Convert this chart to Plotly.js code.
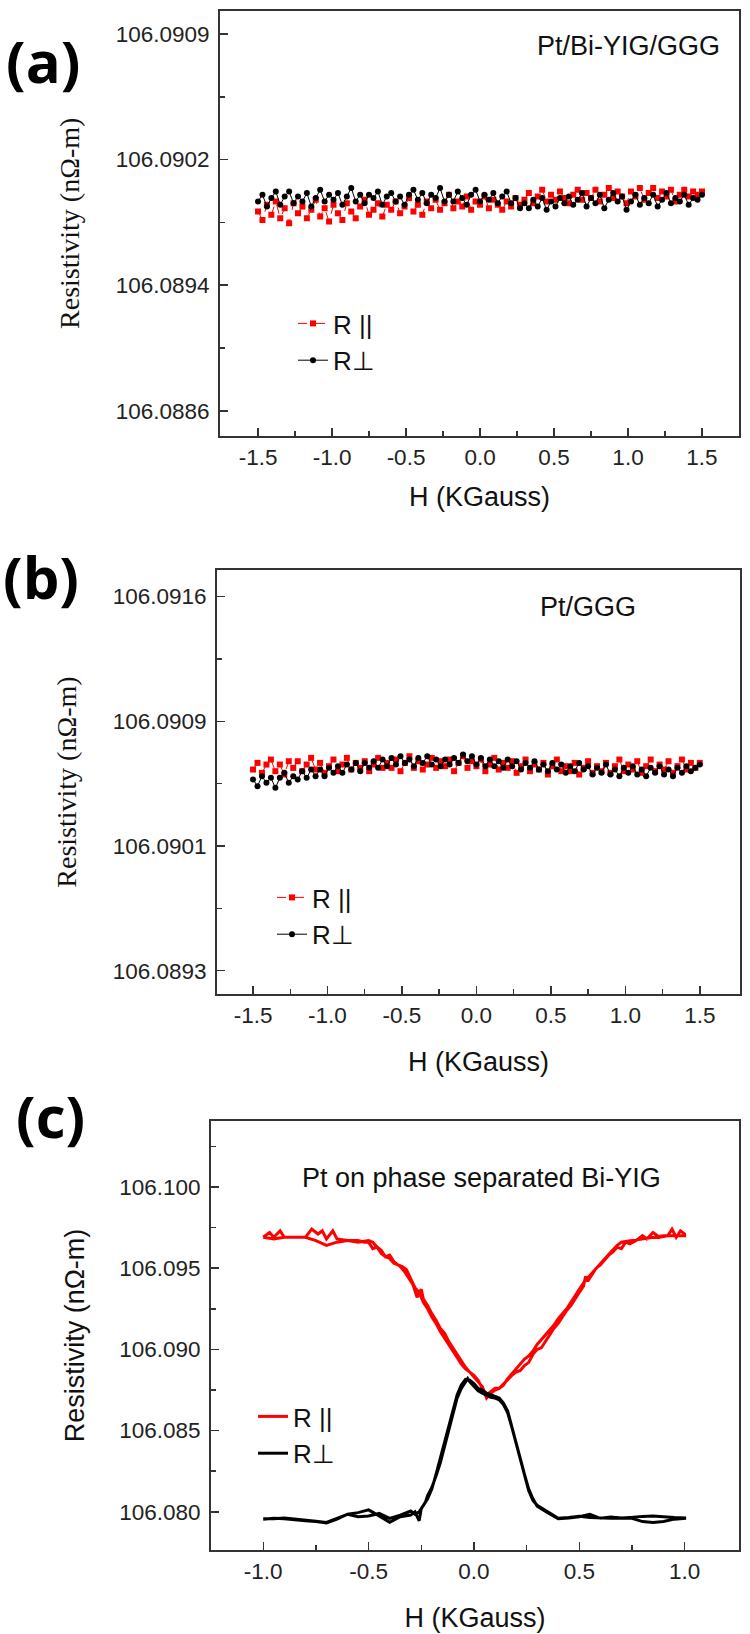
<!DOCTYPE html>
<html><head><meta charset="utf-8">
<script src="https://cdn.plot.ly/plotly-3.0.1.min.js"></script>
<style>html,body{margin:0;padding:0;background:#fff}#chart{width:750px;height:1634px}</style>
</head><body><div id="chart"></div>
<script>
// ---------- shared field grid for panels (a) and (b) (KGauss) ----------
const H_ab = [-1.50,-1.47,-1.44,-1.41,-1.38,-1.35,-1.32,-1.29,-1.26,-1.23,
-1.20,-1.17,-1.14,-1.11,-1.08,-1.05,-1.02,-0.99,-0.96,-0.93,
-0.90,-0.87,-0.84,-0.81,-0.78,-0.75,-0.72,-0.69,-0.66,-0.63,
-0.60,-0.57,-0.54,-0.51,-0.48,-0.45,-0.42,-0.39,-0.36,-0.33,
-0.30,-0.27,-0.24,-0.21,-0.18,-0.15,-0.12,-0.09,-0.06,-0.03,
0.00,0.03,0.06,0.09,0.12,0.15,0.18,0.21,0.24,0.27,
0.30,0.33,0.36,0.39,0.42,0.45,0.48,0.51,0.54,0.57,
0.60,0.63,0.66,0.69,0.72,0.75,0.78,0.81,0.84,0.87,
0.90,0.93,0.96,0.99,1.02,1.05,1.08,1.11,1.14,1.17,
1.20,1.23,1.26,1.29,1.32,1.35,1.38,1.41,1.44,1.47,1.50];

// ---------- panel (a): Pt/Bi-YIG/GGG ----------
const Ra_par = [106.08984,106.08979,106.08988,106.08982,106.08990,106.08980,106.08986,106.08977,106.08989,106.08983,
106.08987,106.08980,106.08985,106.08991,106.08981,106.08986,106.08978,106.08988,106.08983,106.08979,
106.08989,106.08984,106.08980,106.08987,106.08991,106.08982,106.08985,106.08989,106.08981,106.08988,
106.08985,106.08990,106.08983,106.08987,106.08992,106.08984,106.08988,106.08982,106.08990,106.08986,
106.08991,106.08985,106.08989,106.08994,106.08986,106.08990,106.08987,106.08993,106.08985,106.08990,
106.08988,106.08993,106.08986,106.08991,106.08988,106.08985,106.08990,106.08987,106.08992,106.08988,
106.08991,106.08995,106.08989,106.08993,106.08997,106.08990,106.08994,106.08991,106.08996,106.08992,
106.08989,106.08994,106.08997,106.08991,106.08995,106.08992,106.08997,106.08990,106.08994,106.08998,
106.08992,106.08996,106.08993,106.08989,106.08996,106.08993,106.08998,106.08991,106.08995,106.08998,
106.08992,106.08996,106.08993,106.08997,106.08990,106.08994,106.08997,106.08993,106.08996,106.08994,106.08996];
const Ra_perp = [106.08990,106.08994,106.08987,106.08992,106.08996,106.08988,106.08993,106.08996,106.08989,106.08993,
106.08990,106.08995,106.08987,106.08992,106.08997,106.08990,106.08994,106.08991,106.08995,106.08988,
106.08993,106.08998,106.08990,106.08994,106.08989,106.08994,106.08992,106.08996,106.08988,106.08993,
106.08995,106.08990,106.08993,106.08988,106.08994,106.08997,106.08991,106.08995,106.08989,106.08994,
106.08992,106.08998,106.08990,106.08994,106.08990,106.08996,106.08992,106.08988,106.08994,106.08997,
106.08990,106.08994,106.08991,106.08995,106.08989,106.08993,106.08996,106.08989,106.08992,106.08986,
106.08989,106.08986,106.08991,106.08987,106.08992,106.08985,106.08990,106.08987,106.08992,106.08989,
106.08993,106.08988,106.08991,106.08995,106.08987,106.08992,106.08989,106.08994,106.08986,106.08991,
106.08995,106.08990,106.08993,106.08985,106.08990,106.08994,106.08988,106.08992,106.08989,106.08994,
106.08987,106.08991,106.08995,106.08989,106.08992,106.08990,106.08994,106.08988,106.08992,106.08991,106.08994];
const YA_TICKVALS = [106.08865, 106.0894, 106.09015, 106.0909];
const YA_TICKTEXT = ['106.0886', '106.0894', '106.0902', '106.0909'];

// ---------- panel (b): Pt/GGG ----------
const Rb_par = [106.09051,106.09055,106.09049,106.09054,106.09057,106.09050,106.09054,106.09048,106.09056,106.09052,
106.09056,106.09050,106.09054,106.09058,106.09051,106.09055,106.09049,106.09053,106.09057,106.09050,
106.09054,106.09058,106.09051,106.09055,106.09052,106.09056,106.09050,106.09054,106.09058,106.09052,
106.09055,106.09052,106.09057,106.09050,106.09055,106.09059,106.09052,106.09056,106.09051,106.09054,
106.09058,106.09052,106.09056,106.09053,106.09057,106.09050,106.09055,106.09059,106.09052,106.09056,
106.09053,106.09057,106.09050,106.09054,106.09058,106.09051,106.09055,106.09052,106.09056,106.09049,
106.09053,106.09057,106.09050,106.09054,106.09051,106.09055,106.09048,106.09053,106.09057,106.09050,
106.09053,106.09050,106.09055,106.09048,106.09052,106.09056,106.09049,106.09053,106.09050,106.09055,
106.09049,106.09053,106.09057,106.09050,106.09054,106.09051,106.09056,106.09049,106.09053,106.09057,
106.09050,106.09054,106.09051,106.09056,106.09049,106.09053,106.09057,106.09051,106.09055,106.09052,106.09055];
const Rb_perp = [106.09045,106.09041,106.09047,106.09043,106.09046,106.09040,106.09046,106.09049,106.09043,106.09047,
106.09045,106.09050,106.09046,106.09051,106.09047,106.09051,106.09047,106.09052,106.09049,106.09053,
106.09049,106.09054,106.09051,106.09055,106.09050,106.09055,106.09052,106.09056,106.09052,106.09057,
106.09053,106.09058,106.09054,106.09059,106.09055,106.09057,106.09053,106.09058,106.09055,106.09059,
106.09054,106.09057,106.09053,106.09057,106.09054,106.09058,106.09055,106.09060,106.09056,106.09059,
106.09054,106.09058,106.09053,106.09057,106.09053,106.09056,106.09052,106.09057,106.09053,106.09056,
106.09051,106.09055,106.09052,106.09056,106.09051,106.09054,106.09050,106.09055,106.09051,106.09054,
106.09049,106.09053,106.09050,106.09055,106.09051,106.09053,106.09048,106.09052,106.09049,106.09054,
106.09048,106.09051,106.09047,106.09052,106.09049,106.09053,106.09048,106.09051,106.09047,106.09052,
106.09049,106.09053,106.09048,106.09051,106.09047,106.09052,106.09049,106.09053,106.09050,106.09052,106.09054];
const YB_TICKVALS = [106.0893, 106.09005, 106.0908, 106.09155];
const YB_TICKTEXT = ['106.0893', '106.0901', '106.0909', '106.0916'];

// ---------- panel (c): Pt on phase separated Bi-YIG (up sweep then down sweep) ----------
const Hc_par_up = [-1.00,-0.97,-0.95,-0.92,-0.90,-0.85,-0.80,-0.77,-0.74,-0.72,-0.70,-0.67,-0.65,-0.60,-0.55,-0.52,-0.50,-0.48,-0.46,-0.44,-0.42,-0.40,-0.38,-0.36,-0.34,-0.32,-0.30,-0.28,-0.26,-0.25,-0.24,-0.22,-0.20,-0.18,-0.16,-0.14,-0.12,-0.10,-0.08,-0.06,-0.04,-0.02,0.00,0.02,0.04,0.06,0.08,0.10,0.12,0.14,0.16,0.18,0.20,0.22,0.24,0.26,0.28,0.30,0.32,0.34,0.36,0.38,0.40,0.42,0.44,0.46,0.48,0.50,0.52,0.54,0.56,0.58,0.60,0.62,0.65,0.68,0.70,0.75,0.80,0.85,0.90,0.95,1.00];
const Rc_par_up = [106.0969,106.0972,106.0969,106.0973,106.0969,106.0969,106.0969,106.0974,106.0971,106.0973,106.0968,106.0973,106.0968,106.0967,106.0967,106.0966,106.0966,106.0962,106.0963,106.0959,106.0957,106.0956,106.0953,106.0952,106.0951,106.0949,106.0943,106.0938,106.0935,106.0937,106.0931,106.0927,106.0922,106.0918,106.0913,106.0910,106.0905,106.0901,106.0897,106.0893,106.0889,106.0886,106.0884,106.0881,106.0876,106.0872,106.0874,106.0876,106.0876,106.0878,106.0882,106.0885,106.0888,106.0891,106.0894,106.0896,106.0899,106.0903,106.0906,106.0909,106.0912,106.0915,106.0919,106.0922,106.0925,106.0929,106.0933,106.0937,106.0941,106.0944,106.0947,106.0950,106.0953,106.0956,106.0960,106.0964,106.0966,106.0967,106.0968,106.0969,106.0970,106.0970,106.0970];
const Hc_par_down = [1.00,0.98,0.96,0.94,0.92,0.88,0.85,0.82,0.80,0.77,0.74,0.72,0.70,0.68,0.66,0.64,0.62,0.60,0.58,0.56,0.54,0.53,0.52,0.50,0.48,0.46,0.44,0.42,0.40,0.38,0.36,0.34,0.32,0.30,0.28,0.26,0.24,0.22,0.20,0.18,0.15,0.12,0.10,0.08,0.06,0.04,0.02,0.00,-0.02,-0.04,-0.06,-0.08,-0.10,-0.12,-0.14,-0.16,-0.18,-0.20,-0.22,-0.24,-0.26,-0.27,-0.29,-0.31,-0.33,-0.35,-0.38,-0.40,-0.42,-0.44,-0.46,-0.48,-0.50,-0.55,-0.60,-0.65,-0.70,-0.75,-0.80,-0.85,-0.90,-0.95,-1.00];
const Rc_par_down = [106.0971,106.0973,106.0969,106.0974,106.0970,106.0969,106.0972,106.0968,106.0970,106.0967,106.0965,106.0966,106.0962,106.0963,106.0960,106.0958,106.0955,106.0952,106.0950,106.0946,106.0942,106.0945,106.0939,106.0935,106.0931,106.0927,106.0924,106.0920,106.0916,106.0913,106.0909,106.0905,106.0901,106.0900,106.0897,106.0892,106.0890,106.0887,106.0886,106.0884,106.0880,106.0876,106.0875,106.0873,106.0870,106.0877,106.0880,106.0883,106.0886,106.0888,106.0891,106.0895,106.0899,106.0903,106.0907,106.0911,106.0916,106.0920,106.0925,106.0929,106.0935,106.0932,106.0940,106.0944,106.0948,106.0951,106.0954,106.0958,106.0957,106.0961,106.0963,106.0966,106.0967,106.0966,106.0967,106.0966,106.0964,106.0967,106.0969,106.0969,106.0969,106.0968,106.0969];
const Hc_perp_up = [-1.00,-0.95,-0.90,-0.85,-0.80,-0.75,-0.70,-0.65,-0.60,-0.55,-0.50,-0.45,-0.40,-0.35,-0.30,-0.28,-0.26,-0.25,-0.23,-0.22,-0.20,-0.18,-0.16,-0.14,-0.12,-0.10,-0.08,-0.06,-0.04,-0.03,-0.02,0.00,0.02,0.04,0.06,0.08,0.10,0.12,0.14,0.16,0.18,0.20,0.22,0.24,0.26,0.28,0.30,0.35,0.40,0.45,0.50,0.55,0.60,0.65,0.70,0.75,0.80,0.85,0.90,0.95,1.00];
const Rc_perp_up = [106.07955,106.07960,106.07958,106.07950,106.07945,106.07940,106.07932,106.07955,106.07985,106.07995,106.08012,106.07975,106.07935,106.07970,106.07980,106.08000,106.07945,106.08020,106.08060,106.08100,106.08150,106.08220,106.08300,106.08400,106.08500,106.08600,106.08700,106.08760,106.08800,106.08820,106.08800,106.08770,106.08745,106.08730,106.08715,106.08705,106.08700,106.08690,106.08660,106.08610,106.08520,106.08420,106.08320,106.08220,106.08130,106.08070,106.08040,106.08000,106.07960,106.07965,106.07972,106.07965,106.07962,106.07960,106.07962,106.07960,106.07940,106.07935,106.07940,106.07955,106.07960];
const Hc_perp_down = [1.00,0.95,0.90,0.85,0.80,0.75,0.70,0.65,0.60,0.55,0.50,0.45,0.40,0.35,0.30,0.28,0.26,0.24,0.22,0.20,0.18,0.16,0.14,0.12,0.10,0.08,0.06,0.04,0.02,0.00,-0.02,-0.04,-0.06,-0.08,-0.10,-0.12,-0.14,-0.16,-0.18,-0.20,-0.22,-0.24,-0.26,-0.28,-0.30,-0.35,-0.40,-0.45,-0.50,-0.55,-0.60,-0.65,-0.70,-0.75,-0.80,-0.85,-0.90,-0.95,-1.00];
const Rc_perp_down = [106.07962,106.07965,106.07970,106.07975,106.07972,106.07965,106.07960,106.07968,106.07960,106.07985,106.07970,106.07962,106.07958,106.07995,106.08035,106.08080,106.08140,106.08230,106.08330,106.08430,106.08530,106.08620,106.08670,106.08700,106.08710,106.08720,106.08730,106.08750,106.08760,106.08790,106.08810,106.08815,106.08780,106.08720,106.08620,106.08520,106.08420,106.08320,106.08230,106.08140,106.08080,106.08040,106.08000,106.07985,106.08005,106.07980,106.07960,106.07990,106.07975,106.07970,106.07985,106.07960,106.07935,106.07942,106.07950,106.07955,106.07962,106.07958,106.07958];
const YC_TICKVALS = [106.080, 106.085, 106.090, 106.095, 106.100];
const YC_TICKTEXT = ['106.080', '106.085', '106.090', '106.095', '106.100'];

// ---------- x tick labels ----------
const XAB_TICKVALS = [-1.5, -1.0, -0.5, 0.0, 0.5, 1.0, 1.5];
const XAB_TICKTEXT = ['-1.5', '-1.0', '-0.5', '0.0', '0.5', '1.0', '1.5'];
const XC_TICKVALS = [-1.0, -0.5, 0.0, 0.5, 1.0];
const XC_TICKTEXT = ['-1.0', '-0.5', '0.0', '0.5', '1.0'];

const NAME_PAR = 'R ||';
const NAME_PERP = 'R\u22A5';
const PANEL_LABELS = ['(a)', '(b)', '(c)'];
const SAMPLE_LABELS = ['Pt/Bi-YIG/GGG', 'Pt/GGG', 'Pt on phase separated Bi-YIG'];
const X_TITLE = 'H (KGauss)';
const Y_TITLE = 'Resistivity (n\u03A9-m)';

// ---------- styling ----------
const W = 750, HGT = 1634;
const SANS = 'Liberation Sans, Arial, sans-serif';
const SERIF = 'Liberation Serif, Times New Roman, serif';
const AXC = '#333333';
const RED = '#ff0000';
const px = v => v / W;
const py = v => 1 - v / HGT;
const mids = a => a.slice(1).map((v, i) => (v + a[i]) / 2);

function xAx(dom, range, tv, tt, anchor, standoff) {
  return {
    domain: dom, range: range, anchor: anchor,
    tickmode: 'array', tickvals: tv, ticktext: tt,
    ticks: 'inside', ticklen: 8, tickwidth: 1.5, tickcolor: AXC,
    minor: {tickmode: 'array', tickvals: mids(tv), ticks: 'inside', ticklen: 5, tickwidth: 1.5, tickcolor: AXC},
    showline: true, mirror: true, linecolor: AXC, linewidth: 2,
    showgrid: false, zeroline: false,
    tickfont: {family: SANS, size: 22.5, color: '#222'},
    title: {text: X_TITLE, font: {family: SANS, size: 27, color: '#111'}, standoff: standoff}
  };
}
function yAx(dom, range, tv, tt, minorVals, anchor, font, standoff) {
  return {
    domain: dom, range: range, anchor: anchor,
    tickmode: 'array', tickvals: tv, ticktext: tt,
    ticks: 'inside', ticklen: 8, tickwidth: 1.5, tickcolor: AXC,
    minor: {tickmode: 'array', tickvals: minorVals, ticks: 'inside', ticklen: 5, tickwidth: 1.5, tickcolor: AXC},
    showline: true, mirror: true, linecolor: AXC, linewidth: 2,
    showgrid: false, zeroline: false,
    tickfont: {family: SANS, size: 22.5, color: '#222'},
    ticklabelstandoff: 4,
    title: {text: Y_TITLE, font: font, standoff: standoff}
  };
}

const parStyle = {mode: 'lines+markers', line: {color: RED, width: 1, dash: 'dash'}, marker: {symbol: 'square', size: 6, color: RED}};
const perpStyle = {mode: 'lines+markers', line: {color: '#000', width: 1}, marker: {symbol: 'circle', size: 6, color: '#000'}};

const data = [
  Object.assign({x: H_ab, y: Ra_par, name: NAME_PAR, xaxis: 'x', yaxis: 'y', legend: 'legend'}, parStyle),
  Object.assign({x: H_ab, y: Ra_perp, name: NAME_PERP, xaxis: 'x', yaxis: 'y', legend: 'legend'}, perpStyle),
  Object.assign({x: H_ab, y: Rb_par, name: NAME_PAR, xaxis: 'x2', yaxis: 'y2', legend: 'legend2'}, parStyle),
  Object.assign({x: H_ab, y: Rb_perp, name: NAME_PERP, xaxis: 'x2', yaxis: 'y2', legend: 'legend2'}, perpStyle),
  {x: Hc_par_up.concat(Hc_par_down), y: Rc_par_up.concat(Rc_par_down), name: NAME_PAR, mode: 'lines',
   line: {color: RED, width: 3}, xaxis: 'x3', yaxis: 'y3', legend: 'legend3'},
  {x: Hc_perp_up.concat(Hc_perp_down), y: Rc_perp_up.concat(Rc_perp_down), name: NAME_PERP, mode: 'lines',
   line: {color: '#000', width: 3}, xaxis: 'x3', yaxis: 'y3', legend: 'legend3'}
];

function leg(xl, yt) {
  return {x: px(xl), y: py(yt), xanchor: 'left', yanchor: 'top',
    font: {family: SANS, size: 26, color: '#111'}, bgcolor: 'rgba(0,0,0,0)',
    borderwidth: 0, tracegroupgap: 0};
}
function ann(text, x, y, xanchor, font) {
  return {text: text, x: px(x), y: py(y), xref: 'paper', yref: 'paper',
    xanchor: xanchor, yanchor: 'middle', showarrow: false, font: font};
}
const labelFont = {family: 'Open Sans, sans-serif', size: 58, weight: 700, color: '#000'};
const sampleFont = {family: SANS, size: 27, color: '#111'};
const serifTitle = {family: SERIF, size: 28, color: '#111'};
const sansTitle = {family: SANS, size: 27, color: '#111'};

const layout = {
  width: W, height: HGT, margin: {l: 0, r: 0, t: 0, b: 0},
  paper_bgcolor: '#fff', plot_bgcolor: '#fff', showlegend: true,
  xaxis: xAx([px(220), px(739)], [-1.757, 1.75], XAB_TICKVALS, XAB_TICKTEXT, 'y', 18),
  yaxis: yAx([py(436), py(10.5)], [106.08850, 106.09104], YA_TICKVALS, YA_TICKTEXT, mids(YA_TICKVALS), 'x', serifTitle, 28),
  xaxis2: xAx([px(217), px(740)], [-1.742, 1.77], XAB_TICKVALS, XAB_TICKTEXT, 'y2', 25),
  yaxis2: yAx([py(994), py(570)], [106.08916, 106.09171], YB_TICKVALS, YB_TICKTEXT, mids(YB_TICKVALS), 'x2', serifTitle, 28),
  xaxis3: xAx([px(211), px(739)], [-1.248, 1.258], XC_TICKVALS, XC_TICKTEXT, 'y3', 25),
  yaxis3: yAx([py(1550), py(1121)], [106.07765, 106.10406], YC_TICKVALS, YC_TICKTEXT,
              mids(YC_TICKVALS).concat([106.1025]), 'x3', sansTitle, 27),
  legend: leg(293, 300),
  legend2: leg(272, 874),
  legend3: leg(253, 1393),
  annotations: [
    ann(PANEL_LABELS[0], 43, 61, 'center', labelFont),
    ann(PANEL_LABELS[1], 41, 576, 'center', labelFont),
    ann(PANEL_LABELS[2], 50, 1115, 'center', labelFont),
    ann(SAMPLE_LABELS[0], 722, 46, 'right', sampleFont),
    ann(SAMPLE_LABELS[1], 588, 607, 'center', sampleFont),
    ann(SAMPLE_LABELS[2], 481, 1178, 'center', sampleFont)
  ]
};

Plotly.newPlot('chart', data, layout, {staticPlot: true, displayModeBar: false});
</script></body></html>
